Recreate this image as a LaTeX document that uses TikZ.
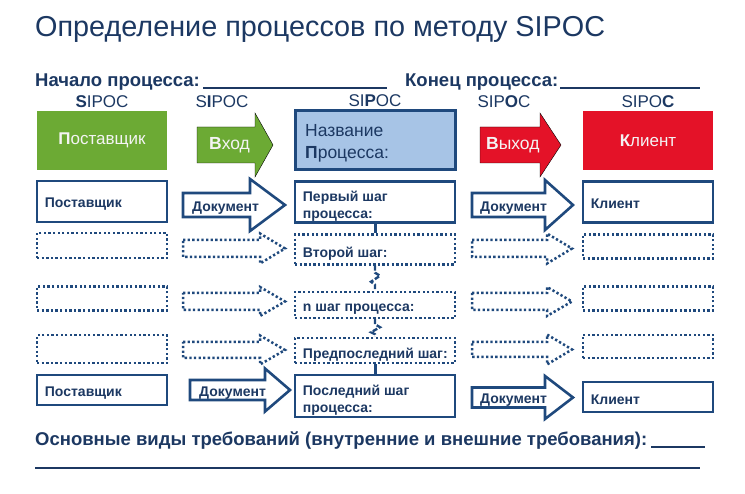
\documentclass[tikz,border=0pt]{standalone}
\usepackage{fontspec}
\setmainfont{Liberation Sans}
\usepackage{xcolor}
\usetikzlibrary{
arrows.meta,
positioning,
shapes
}

\definecolor{sipocnavy}{RGB}{28,56,98}
\definecolor{sipocblue}{RGB}{31,73,125}
\definecolor{sipocgreen}{RGB}{108,170,52}
\definecolor{sipocred}{RGB}{228,18,40}
\definecolor{sipocsky}{RGB}{167,196,230}
\definecolor{sipocwhite}{RGB}{244,244,244}

% block arrow: style, name, tail x, head x, tip x, mid y, shaft half, head half
\newcommand{\sipocarrow}[8]{%
  \draw[#1] (#3,#6-#7) -- (#4,#6-#7) -- (#4,#6-#8) -- (#5,#6)
    -- (#4,#6+#8) -- (#4,#6+#7) -- (#3,#6+#7) -- cycle;
  \coordinate (#2) at (#3,#6);
}

\tikzset{
  solidline/.style={draw=sipocblue, line width=2.6pt, fill=white},
  dotline/.style={draw=sipocblue, line width=2.5pt, dash pattern=on 2.3pt off 2.3pt},
  hdrbox/.style={rectangle, minimum width=130pt, minimum height=59pt, inner sep=0pt,
    text=sipocwhite, font=\fontsize{17}{20}\selectfont},
  sipoclbl/.style={inner sep=1pt, text=sipocnavy, font=\fontsize{17}{19}\selectfont},
  rowbox/.style={rectangle, solidline, minimum width=130pt, inner sep=0pt},
  dotbox/.style={rectangle, dotline, minimum width=130pt, inner sep=0pt},
  stepbox/.style={rectangle, solidline, minimum width=160pt, inner sep=0pt},
  dotstep/.style={rectangle, dotline, minimum width=160pt, inner sep=0pt},
  boxtext/.style={inner sep=0pt, anchor=west, yshift=-3pt, text=sipocnavy,
    font=\bfseries\fontsize{14}{17}\selectfont},
  steptext/.style={inner sep=0pt, anchor=west, yshift=-4pt, align=left, text=sipocnavy,
    font=\bfseries\fontsize{14}{17.5}\selectfont},
  link/.style={draw=sipocblue, line width=3pt},
  brokenlink/.style={draw=sipocblue, line width=2.4pt, dash pattern=on 5pt off 2pt}
}

\begin{document}
\begin{tikzpicture}[x=1pt, y=-1pt]
  \useasboundingbox (0,0) rectangle (745,494);

  % title and blanks
  \node [anchor=base west, inner sep=0pt, text=sipocnavy, font=\fontsize{28.8}{30}\selectfont]
    (title) at (35,37) {Определение процессов по методу SIPOC};
  \node [anchor=base west, inner sep=0pt, text=sipocnavy, font=\bfseries\fontsize{18.5}{20}\selectfont]
    (start) at (35,87) {Начало процесса:};
  \node [anchor=base west, inner sep=0pt, text=sipocnavy, font=\bfseries\fontsize{18.5}{20}\selectfont]
    (finish) at (405,87) {Конец процесса:};
  \draw [sipocnavy, line width=1.6pt] ([xshift=3pt, yshift=-1pt] start.base east) -- (387,88);
  \draw [sipocnavy, line width=1.6pt] ([xshift=2pt, yshift=-1pt] finish.base east) -- (700,88);

  % header row
  \node [hdrbox, fill=sipocgreen] (supH) at (102,140.5) {\textbf{П}оставщик};
  \node [hdrbox, fill=sipocred] (cliH) at (648,140.5) {\textbf{К}лиент};
  \node [rectangle, draw=sipocblue, line width=3pt, fill=sipocsky, minimum width=160pt,
    minimum height=59pt, inner sep=0pt] (procH) at (375,140.5) {};
  \node [inner sep=0pt, anchor=north west, align=left, text=sipocnavy,
    font=\fontsize{17.5}{22.5}\selectfont] (procT) at (305,124) {Название\\\textbf{П}роцесса:};
  \sipocarrow{fill=sipocgreen}{inH}{197}{255}{273}{145}{18}{32}
  \sipocarrow{fill=sipocred}{outH}{480}{540}{561}{145}{18}{32}
  \node [inner sep=0pt, text=sipocwhite, font=\fontsize{17.5}{20}\selectfont,
    right=12pt of inH] (inT) {\textbf{В}ход};
  \node [inner sep=0pt, text=sipocwhite, font=\fontsize{17.5}{20}\selectfont,
    right=6pt of outH] (outT) {\textbf{В}ыход};

  % SIPOC letters
  \node [sipoclbl, above=2pt of supH] (lblS) {\textbf{S}IPOC};
  \node [sipoclbl, anchor=base] (lblI) at (222,108) {S\textbf{I}POC};
  \node [sipoclbl, above=2pt of procH] (lblP) {SI\textbf{P}OC};
  \node [sipoclbl, anchor=base] (lblO) at (504,108) {SIP\textbf{O}C};
  \node [sipoclbl, above=2pt of cliH] (lblC) {SIPO\textbf{C}};

  % row 1
  \node [rowbox, minimum height=41pt] (sup1) at (102,201.5) {};
  \node [boxtext, right=9pt of sup1.west] {Поставщик};
  \sipocarrow{solidline}{in1}{183}{250}{285}{205}{12}{26}
  \node [boxtext, right=9pt of in1] {Документ};
  \node [stepbox, minimum height=41pt] (step1) at (375,202) {};
  \node [steptext, right=9pt of step1.west] {Первый шаг\\процесса:};
  \sipocarrow{solidline}{out1}{472}{545}{573}{205}{12}{25}
  \node [boxtext, right=8pt of out1] {Документ};
  \node [rowbox, minimum height=41pt] (cli1) at (648,202) {};
  \node [boxtext, right=9pt of cli1.west, yshift=1pt] {Клиент};

  % row 2
  \node [dotbox, minimum height=25pt] (sup2) at (102,245.5) {};
  \sipocarrow{dotline}{in2}{183}{260}{285}{248.5}{8.5}{15}
  \node [dotstep, minimum height=30pt] (step2) at (375,249.5) {};
  \node [steptext, right=9pt of step2.west] {Второй шаг:};
  \sipocarrow{dotline}{out2}{472}{547}{572}{248.5}{8.5}{15}
  \node [dotbox, minimum height=24pt] (cli2) at (648,246.5) {};

  % row 3
  \node [dotbox, minimum height=24pt] (sup3) at (102,298.5) {};
  \sipocarrow{dotline}{in3}{183}{260}{285}{301.5}{8.5}{14.5}
  \node [dotstep, minimum height=26pt] (step3) at (375,305) {};
  \node [steptext, right=9pt of step3.west] {n шаг процесса:};
  \sipocarrow{dotline}{out3}{472}{547}{572}{301.5}{8.5}{14.5}
  \node [dotbox, minimum height=24pt] (cli3) at (648,298.5) {};

  % row 4
  \node [dotbox, minimum height=28pt] (sup4) at (102,349) {};
  \sipocarrow{dotline}{in4}{183}{260}{285}{350}{8}{14.5}
  \node [dotstep, minimum height=25pt] (step4) at (375,350.5) {};
  \node [steptext, right=9pt of step4.west] {Предпоследний шаг:};
  \sipocarrow{dotline}{out4}{472}{547}{572}{349.5}{7.5}{15}
  \node [dotbox, minimum height=23pt] (cli4) at (648,346.5) {};

  % row 5
  \node [rowbox, minimum height=30pt] (sup5) at (102,390) {};
  \node [boxtext, right=9pt of sup5.west] {Поставщик};
  \sipocarrow{solidline}{in5}{190}{265}{290}{390}{10}{21.5}
  \node [boxtext, right=9pt of in5] {Документ};
  \node [stepbox, minimum height=42pt] (step5) at (375,396) {};
  \node [steptext, right=9pt of step5.west] {Последний шаг\\процесса:};
  \sipocarrow{solidline}{out5}{472}{545}{573}{397.5}{10}{21.5}
  \node [boxtext, right=8pt of out5] {Документ};
  \node [rowbox, minimum height=30pt] (cli5) at (648,397) {};
  \node [boxtext, right=9pt of cli5.west] {Клиент};

  % links between the steps
  \draw [link] (step1) -- (step2);
  \draw [brokenlink] (step2.south) -- ++(0,7) -- ++(5,3) -- ++(-9,6) -- ++(4,3) -- (step3.north);
  \draw [brokenlink] (step3.south) -- ++(0,5) -- ++(5,3) -- ++(-9,5) -- ++(4,2) -- (step4.north);
  \draw [link] (step4) -- (step5);

  % requirements
  \node [anchor=base west, inner sep=0pt, text=sipocnavy, font=\bfseries\fontsize{18.5}{20}\selectfont]
    (req) at (35,446) {Основные виды требований (внутренние и внешние требования):};
  \draw [sipocnavy, line width=1.6pt] ([xshift=4pt, yshift=-1pt] req.base east) -- (705,447);
  \draw [sipocnavy, line width=1.6pt] (35,468) -- (700,468);
\end{tikzpicture}
\end{document}
